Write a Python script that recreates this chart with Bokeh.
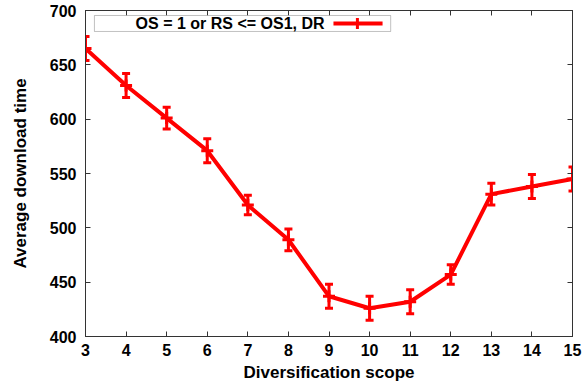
from bokeh.plotting import figure
from bokeh.models import (ColumnDataSource, Whisker, TeeHead, LinearAxis, BoxAnnotation,
                          Label, Arrow, Range1d, FixedTicker)
from bokeh.embed import file_html
from bokeh.resources import INLINE

scope = [3, 4, 5, 6, 7, 8, 9, 10, 11, 12, 13, 14, 15]
avg_time = [665, 631, 601, 571, 521, 489, 437, 426, 432, 457, 531, 538, 545]
err = [11, 11, 10, 11, 9, 10, 11, 11, 11, 9, 10, 11, 11]
series_label = "OS = 1 or RS <= OS1, DR"
x_ticks = list(range(3, 16))
y_ticks = [400, 450, 500, 550, 600, 650, 700]

RED = "#ff0000"
FONT = "Liberation Sans"

src = ColumnDataSource(dict(
    x=scope, y=avg_time,
    lo=[v - e for v, e in zip(avg_time, err)],
    hi=[v + e for v, e in zip(avg_time, err)],
))

p = figure(width=582, height=385, output_backend="svg", toolbar_location=None,
           x_range=Range1d(3, 15), y_range=Range1d(400, 700),
           min_border_left=85, min_border_right=10, min_border_top=10, min_border_bottom=49)
p.grid.visible = False
p.outline_line_color = "#333333"
p.background_fill_color = "white"
p.border_fill_color = "white"

p.line("x", "y", source=src, line_color=RED, line_width=4)
w = Whisker(source=src, base="x", lower="lo", upper="hi",
            line_color=RED, line_width=3,
            upper_head=TeeHead(size=8, line_color=RED, line_width=3),
            lower_head=TeeHead(size=8, line_color=RED, line_width=3))
p.add_layout(w)
p.scatter("x", "y", source=src, marker="cross", size=12, line_color=RED, line_width=3)

def style_axis(ax):
    ax.major_tick_in = 5
    ax.major_tick_out = 0
    ax.minor_tick_line_color = None
    ax.axis_line_color = "#333333"
    ax.major_tick_line_color = "#333333"
    ax.major_label_text_font = FONT
    ax.major_label_text_font_style = "bold"
    ax.major_label_text_font_size = "16px"
    ax.major_label_text_color = "black"
    ax.axis_label_text_font = FONT
    ax.axis_label_text_font_style = "bold"
    ax.axis_label_text_font_size = "17px"
    ax.axis_label_text_color = "black"

p.xaxis.ticker = FixedTicker(ticks=x_ticks)
p.yaxis.ticker = FixedTicker(ticks=y_ticks)
p.xaxis.axis_label = "Diversification scope"
p.yaxis.axis_label = "Average download time"
style_axis(p.xaxis[0])
style_axis(p.yaxis[0])
p.xaxis.major_label_standoff = 7
p.xaxis.axis_label_standoff = 4
p.yaxis.major_label_standoff = 9
p.yaxis.axis_label_standoff = 17

top = LinearAxis(ticker=FixedTicker(ticks=x_ticks),
                 major_label_overrides={t: "" for t in x_ticks})
style_axis(top)
p.add_layout(top, "above")
right = LinearAxis(ticker=FixedTicker(ticks=y_ticks),
                   major_label_overrides={t: "" for t in y_ticks})
style_axis(right)
p.add_layout(right, "right")

# legend box (gnuplot style: text then sample)
box = BoxAnnotation(left=3.22, right=10.52, top=695.4, bottom=680.7,
                    fill_color="white", fill_alpha=1.0, line_color="#333333", line_width=1)
p.add_layout(box)
p.add_layout(Label(x=8.89, y=688.0, text=series_label, text_align="right", text_baseline="middle",
                   text_font=FONT, text_font_style="bold", text_font_size="16px", text_color="black"))
p.add_layout(Arrow(x_start=9.11, x_end=10.32, y_start=688.0, y_end=688.0, end=None,
                   line_color=RED, line_width=4))
p.add_layout(Arrow(x_start=9.70, x_end=9.70, y_start=683.0, y_end=693.0, end=None,
                   line_color=RED, line_width=3))

open("out.html", "w").write(file_html(p, INLINE))
